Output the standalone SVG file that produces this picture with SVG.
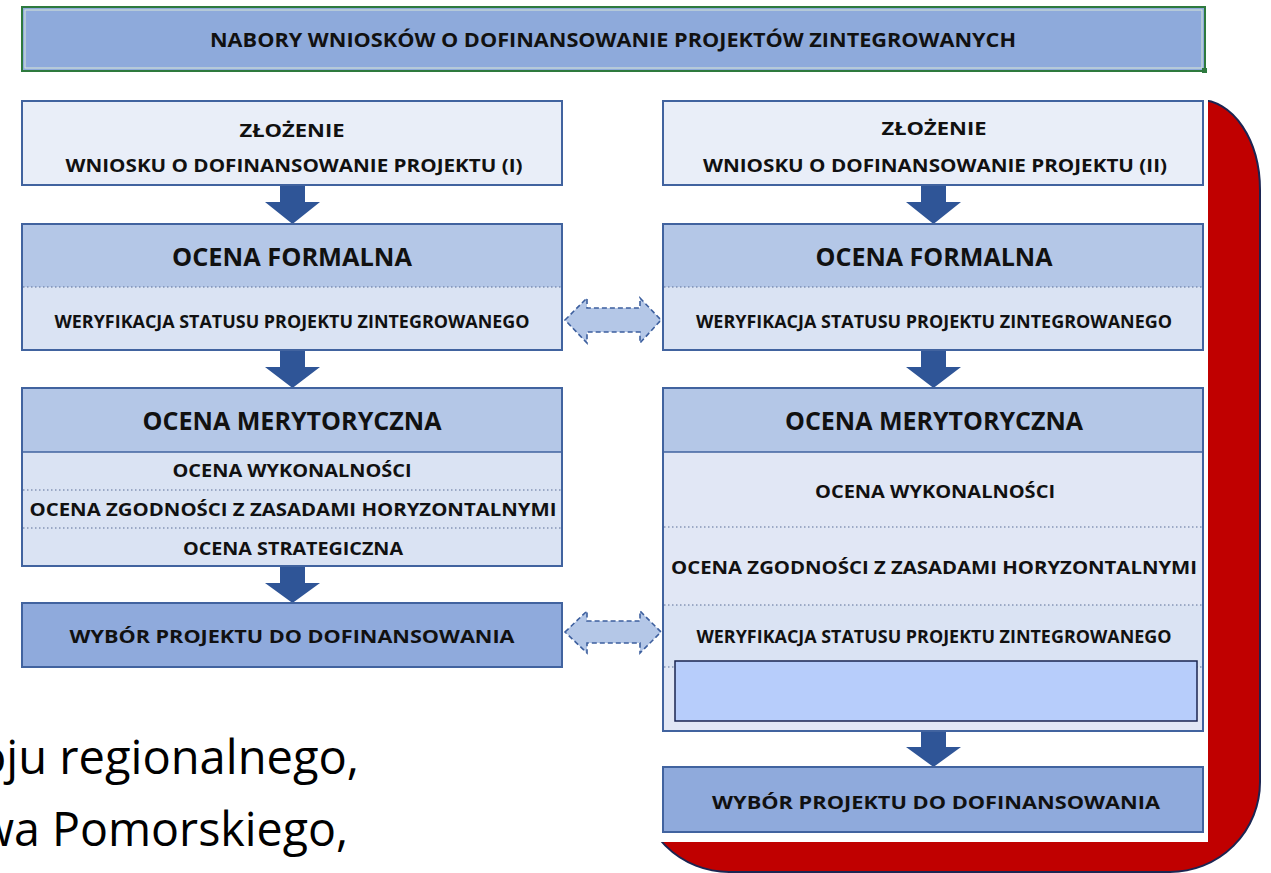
<svg xmlns="http://www.w3.org/2000/svg" width="1271" height="873" viewBox="0 0 1271 873">
<defs>
<style>
.t{font-family:"Open Sans","Noto Sans","Liberation Sans",sans-serif;font-weight:700;fill:#111;text-anchor:middle}
.s{font-size:17px}
.m{font-size:18.5px}
.b{font-size:25px}
.box{stroke:#41639f;stroke-width:2}
.light{fill:#e9eef8}
.hdr{fill:#b4c7e7}
.row{fill:#dae3f3}
.row2{fill:#e1e7f5}
.sel{fill:#8faadc}
.dot{stroke:#5b6f98;stroke-width:1.2;stroke-dasharray:1.5 2.5;fill:none}
.down{fill:#2f5597}
.dbl{fill:#b4c7e7;stroke:#3d5f9e;stroke-width:1.6;stroke-dasharray:5 3}
.big{font-family:"Open Sans","Noto Sans",sans-serif;font-size:47px;fill:#000}
</style>
</defs>
<rect width="1271" height="873" fill="#fff"/>

<g id="background-frame">
<path d="M639,100 H1200 A60,90 0 0 1 1260,190 V782 A90,90 0 0 1 1170,872 H729 A90,90 0 0 1 639,782 Z" fill="#c00000" stroke="#1c2552" stroke-width="2"/>
<rect x="630" y="94" width="578" height="748" fill="#fff"/>
</g>

<g id="title">
<rect x="22" y="7" width="1183" height="64" fill="#8eaadb" stroke="#2e7a3e" stroke-width="2"/>
<rect x="25" y="10" width="1177" height="58" fill="none" stroke="#dce8d6" stroke-width="1"/>
<rect x="1202" y="68" width="5" height="5" fill="#2e7a3e"/>
<text class="t" x="613" y="47" font-size="19" textLength="806" lengthAdjust="spacingAndGlyphs">NABORY WNIOSKÓW O DOFINANSOWANIE PROJEKTÓW ZINTEGROWANYCH</text>
</g>

<g id="connectors">
<path class="down" d="M280,185 H305 V202 H320 L292.5,224 L265,202 H280 Z"/>
<path class="down" d="M280,350 H305 V367 H320 L292.5,388 L265,367 H280 Z"/>
<path class="down" d="M280,566 H305 V583 H320 L292.5,603 L265,583 H280 Z"/>
<path class="down" d="M921,185 H946 V202 H961 L933.5,224 L906,202 H921 Z"/>
<path class="down" d="M921,350 H946 V367 H961 L933.5,388 L906,367 H921 Z"/>
<path class="down" d="M921,731 H946 V747 H961 L933.5,767 L906,747 H921 Z"/>
<path class="dbl" d="M565,320 L587,298 V308 H640 V298 L661,320 L640,343 V332 H587 V343 Z"/>
<path class="dbl" d="M565,632 L587,611 V621 H640 V611 L661,632 L640,653 V643 H587 V653 Z"/>
</g>

<g id="left-submit">
<rect class="box light" x="22" y="101" width="540" height="84"/>
<text class="t m" x="292" y="137" textLength="105" lengthAdjust="spacingAndGlyphs">ZŁOŻENIE</text>
<text class="t m" x="294" y="172" textLength="457" lengthAdjust="spacingAndGlyphs">WNIOSKU O DOFINANSOWANIE PROJEKTU (I)</text>
</g>

<g id="left-formal">
<rect class="hdr" x="22" y="224" width="540" height="63"/>
<rect class="row" x="22" y="287" width="540" height="63"/>
<line class="dot" x1="23" y1="287" x2="561" y2="287"/>
<rect class="box" x="22" y="224" width="540" height="126" fill="none"/>
<text class="t b" x="292" y="266" textLength="240" lengthAdjust="spacingAndGlyphs">OCENA FORMALNA</text>
<text class="t s" x="292" y="328" textLength="475" lengthAdjust="spacingAndGlyphs">WERYFIKACJA STATUSU PROJEKTU ZINTEGROWANEGO</text>
</g>

<g id="left-merit">
<rect class="hdr" x="22" y="388" width="540" height="64"/>
<rect class="row" x="22" y="452" width="540" height="114"/>
<line x1="22" y1="452" x2="562" y2="452" stroke="#41639f" stroke-width="1.5"/>
<line class="dot" x1="23" y1="490" x2="561" y2="490"/>
<line class="dot" x1="23" y1="528" x2="561" y2="528"/>
<rect class="box" x="22" y="388" width="540" height="178" fill="none"/>
<text class="t b" x="292" y="430" textLength="299" lengthAdjust="spacingAndGlyphs">OCENA MERYTORYCZNA</text>
<text class="t m" x="292" y="477" textLength="239" lengthAdjust="spacingAndGlyphs">OCENA WYKONALNOŚCI</text>
<text class="t m" x="293" y="516" textLength="527" lengthAdjust="spacingAndGlyphs">OCENA ZGODNOŚCI Z ZASADAMI HORYZONTALNYMI</text>
<text class="t m" x="293" y="555" textLength="220" lengthAdjust="spacingAndGlyphs">OCENA STRATEGICZNA</text>
</g>

<g id="left-select">
<rect class="box sel" x="22" y="603" width="540" height="64"/>
<text class="t m" x="292" y="643" textLength="445" lengthAdjust="spacingAndGlyphs">WYBÓR PROJEKTU DO DOFINANSOWANIA</text>
</g>

<g id="right-submit">
<rect class="box light" x="663" y="101" width="540" height="84"/>
<text class="t m" x="934" y="135" textLength="105" lengthAdjust="spacingAndGlyphs">ZŁOŻENIE</text>
<text class="t m" x="935" y="172" textLength="464" lengthAdjust="spacingAndGlyphs">WNIOSKU O DOFINANSOWANIE PROJEKTU (II)</text>
</g>

<g id="right-formal">
<rect class="hdr" x="663" y="224" width="540" height="63"/>
<rect class="row" x="663" y="287" width="540" height="63"/>
<line class="dot" x1="664" y1="287" x2="1202" y2="287"/>
<rect class="box" x="663" y="224" width="540" height="126" fill="none"/>
<text class="t b" x="934" y="266" textLength="237" lengthAdjust="spacingAndGlyphs">OCENA FORMALNA</text>
<text class="t s" x="934" y="328" textLength="476" lengthAdjust="spacingAndGlyphs">WERYFIKACJA STATUSU PROJEKTU ZINTEGROWANEGO</text>
</g>

<g id="right-merit">
<rect class="hdr" x="663" y="388" width="540" height="64"/>
<rect class="row2" x="663" y="452" width="540" height="279"/>
<rect class="row" x="663" y="605" width="540" height="62"/>
<line x1="663" y1="452" x2="1203" y2="452" stroke="#41639f" stroke-width="1.5"/>
<line class="dot" x1="664" y1="527" x2="1202" y2="527"/>
<line class="dot" x1="664" y1="605" x2="1202" y2="605"/>
<line class="dot" x1="664" y1="667" x2="1202" y2="667"/>
<rect class="box" x="663" y="388" width="540" height="343" fill="none"/>
<text class="t b" x="934" y="430" textLength="298" lengthAdjust="spacingAndGlyphs">OCENA MERYTORYCZNA</text>
<text class="t m" x="935" y="498" textLength="240" lengthAdjust="spacingAndGlyphs">OCENA WYKONALNOŚCI</text>
<text class="t m" x="934" y="574" textLength="526" lengthAdjust="spacingAndGlyphs">OCENA ZGODNOŚCI Z ZASADAMI HORYZONTALNYMI</text>
<text class="t s" x="934" y="643" textLength="475" lengthAdjust="spacingAndGlyphs">WERYFIKACJA STATUSU PROJEKTU ZINTEGROWANEGO</text>
<rect x="675" y="661" width="522" height="60" fill="#b7cdfb" stroke="#1a2550" stroke-width="1.5"/>
</g>

<g id="right-select">
<rect class="box sel" x="663" y="767" width="540" height="65"/>
<text class="t m" x="936" y="809" textLength="448" lengthAdjust="spacingAndGlyphs">WYBÓR PROJEKTU DO DOFINANSOWANIA</text>
</g>

<g id="caption">
<text class="big" x="-22" y="774" textLength="381" lengthAdjust="spacingAndGlyphs">oju regionalnego,</text>
<text class="big" x="-22" y="846" textLength="370" lengthAdjust="spacingAndGlyphs">wa Pomorskiego,</text>
</g>
</svg>
